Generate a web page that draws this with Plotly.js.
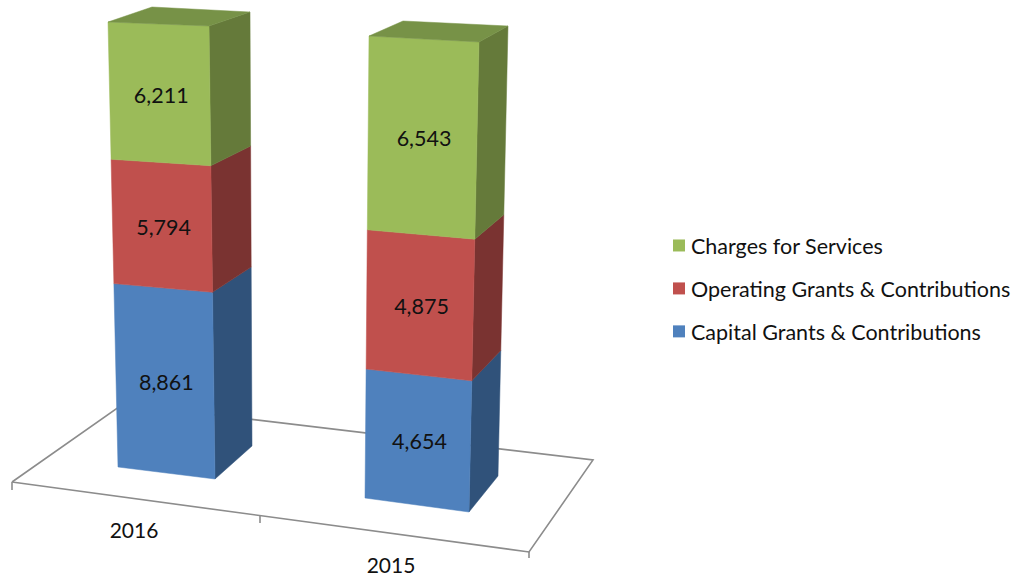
<!DOCTYPE html>
<html>
<head>
<meta charset="utf-8">
<script src="https://cdn.plot.ly/plotly-3.0.1.min.js"></script>
<style>html,body{margin:0;padding:0;background:#fff}#chart{width:1014px;height:577px}</style>
</head>
<body>
<div id="chart"></div>
<script>
// ---- data ----
const categories = ['2016', '2015'];
const seriesNames = ['Capital Grants & Contributions', 'Operating Grants & Contributions', 'Charges for Services'];
const capitalGrants = [8861, 4654];
const operatingGrants = [5794, 4875];
const chargesForServices = [6211, 6543];

// ---- styles ----
const frontColors = ['#4F81BD', '#C0504D', '#9BBB59'];
const sideColors = ['#30527A', '#7A3331', '#657A3A'];
const topColor = '#779247';
const axisColor = '#8C8C8C';
const textColor = '#111111';
const fontFamily = 'Lato, Carlito, sans-serif';

// ---- projection calibration: each vertical bar edge, from its foot on the floor to its head at the bar total ----
const perspective = 0.05;
const edges = [
  { fl: [[118, 467], [108, 22]], fr: [[215, 479], [209, 26]], br: [[252, 446], [250, 12]], bl: [[155, 440], [152, 7]] },
  { fl: [[365, 498], [369, 36]], fr: [[469, 512], [479, 42]], br: [[498, 476], [508, 26]], bl: [[400, 470], [403, 21]] }
];
const floorCorners = [[12, 482], [529, 552], [593, 460], [123, 404]];
const tickMarks = [[[12, 482], [12, 490]], [[260, 516], [260, 523]], [[529, 552], [529, 558]]];
const categoryAnchors = [[134, 533], [391, 568]];
const labelDrop = 4;
const labelShift = 1.5;

const stack = [capitalGrants, operatingGrants, chargesForServices];
const totals = categories.map((_, i) => stack.reduce((s, a) => s + a[i], 0));

function project(barIndex, edge, cumulative) {
  const t = cumulative / totals[barIndex];
  const f = t * (1 - perspective) / (1 - perspective * t);
  const [foot, head] = edges[barIndex][edge];
  return [foot[0] + (head[0] - foot[0]) * f, foot[1] + (head[1] - foot[1]) * f];
}

function polyTrace(polys, color, name) {
  const x = [], y = [];
  polys.forEach(p => {
    p.forEach(q => { x.push(q[0]); y.push(q[1]); });
    x.push(p[0][0], null); y.push(p[0][1], null);
  });
  return { type: 'scatter', mode: 'lines', x, y, fill: 'toself', fillcolor: color,
           line: { color: color, width: 0.5 }, hoverinfo: 'skip', showlegend: false, name };
}

const traces = [];

// floor and tick marks
const fx = floorCorners.map(c => c[0]).concat(floorCorners[0][0]);
const fy = floorCorners.map(c => c[1]).concat(floorCorners[0][1]);
tickMarks.forEach(tm => { fx.push(null, tm[0][0], tm[1][0]); fy.push(null, tm[0][1], tm[1][1]); });
traces.push({ type: 'scatter', mode: 'lines', x: fx, y: fy, line: { color: axisColor, width: 1.6 }, hoverinfo: 'skip', showlegend: false });

// bar faces
stack.forEach((values, s) => {
  const front = [], side = [];
  categories.forEach((_, b) => {
    const lo = stack.slice(0, s).reduce((acc, a) => acc + a[b], 0);
    const hi = lo + values[b];
    front.push([project(b, 'fl', lo), project(b, 'fr', lo), project(b, 'fr', hi), project(b, 'fl', hi)]);
    side.push([project(b, 'fr', lo), project(b, 'br', lo), project(b, 'br', hi), project(b, 'fr', hi)]);
  });
  traces.push(polyTrace(side, sideColors[s], seriesNames[s] + ' side'));
  traces.push(polyTrace(front, frontColors[s], seriesNames[s]));
});
traces.push(polyTrace(categories.map((_, b) => [
  project(b, 'fl', totals[b]), project(b, 'fr', totals[b]), project(b, 'br', totals[b]), project(b, 'bl', totals[b])
]), topColor, 'top'));

// data labels
stack.forEach((values, s) => {
  const lx = [], ly = [], lt = [];
  categories.forEach((_, b) => {
    const lo = stack.slice(0, s).reduce((acc, a) => acc + a[b], 0);
    const hi = lo + values[b];
    const c = [project(b, 'fl', lo), project(b, 'fr', lo), project(b, 'fr', hi), project(b, 'fl', hi)];
    lx.push(c.reduce((a, p) => a + p[0], 0) / 4 + labelShift);
    ly.push(c.reduce((a, p) => a + p[1], 0) / 4 + labelDrop);
    lt.push(values[b].toLocaleString('en-US'));
  });
  traces.push({ type: 'scatter', mode: 'text', x: lx, y: ly, text: lt, textposition: 'middle center',
    textfont: { family: fontFamily, size: 21.5, color: textColor }, hoverinfo: 'skip', showlegend: false });
});

// category labels
traces.push({ type: 'scatter', mode: 'text', x: categoryAnchors.map(a => a[0]), y: categoryAnchors.map(a => a[1]),
  text: categories, textposition: 'middle center', textfont: { family: fontFamily, size: 21, color: textColor },
  hoverinfo: 'skip', showlegend: false });

// legend keys (top to bottom as in the chart)
[2, 1, 0].forEach(s => {
  traces.push({ type: 'scatter', mode: 'markers', x: [null], y: [null], name: seriesNames[s], legendgroup: seriesNames[s],
    marker: { symbol: 'square', size: 12, color: frontColors[s] }, hoverinfo: 'skip' });
});

const layout = {
  width: 1014, height: 577,
  margin: { l: 0, r: 0, t: 0, b: 0, autoexpand: false },
  paper_bgcolor: '#fff', plot_bgcolor: '#fff',
  xaxis: { range: [0, 1014], visible: false, fixedrange: true },
  yaxis: { range: [577, 0], visible: false, fixedrange: true },
  showlegend: true,
  legend: { x: 651 / 1014, y: 1 - 225 / 577, xanchor: 'left', yanchor: 'top', traceorder: 'grouped', tracegroupgap: 12,
    font: { family: fontFamily, size: 21.5, color: textColor }, bgcolor: 'rgba(0,0,0,0)', itemclick: false, itemdoubleclick: false }
};

Plotly.newPlot('chart', traces, layout, { displayModeBar: false, staticPlot: true }).then(() => {
  // The reference sets its legend keys closer to the text than Plotly's minimum item width allows.
  document.querySelectorAll('#chart .legendsymbols').forEach(g => g.setAttribute('transform', 'translate(8,0)'));
});
</script>
</body>
</html>
